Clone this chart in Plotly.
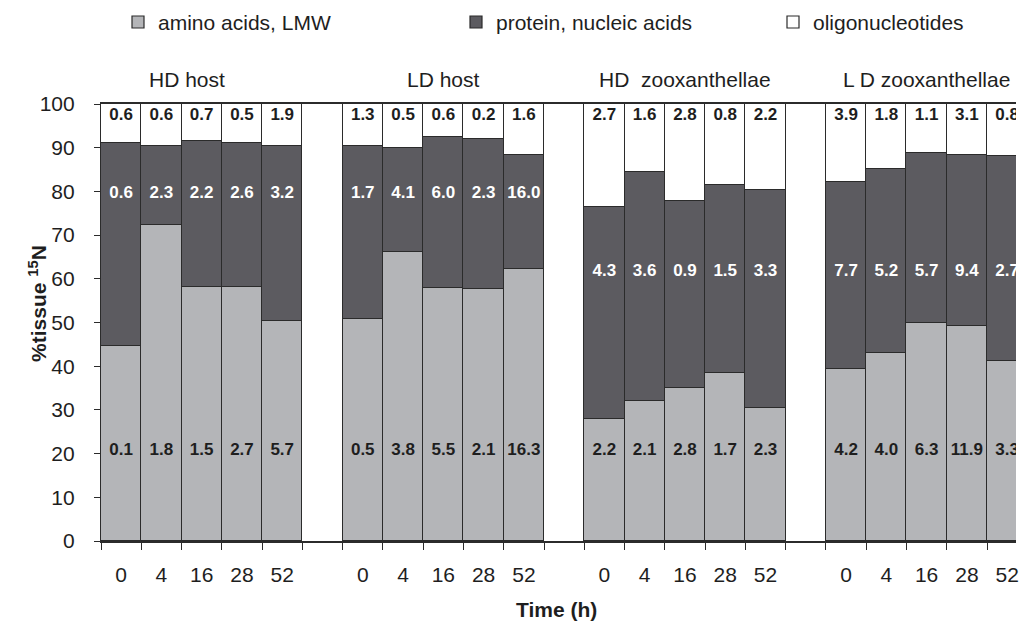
import plotly.graph_objects as go

# Sample groups and sampling times (h)
groups = ["HD host", "LD host", "HD  zooxanthellae", "L D zooxanthellae"]
times = ["0", "4", "16", "28", "52"]

# % of tissue 15N in each fraction, one row per group, one value per time
amino = [
    [44.6, 72.4, 58.1, 58.1, 50.4],
    [50.8, 66.2, 58.0, 57.7, 62.2],
    [28.0, 32.1, 34.9, 38.5, 30.4],
    [39.3, 43.1, 50.0, 49.2, 41.3],
]
protein = [
    [46.4, 18.0, 33.5, 32.9, 40.0],
    [39.6, 23.8, 34.5, 34.3, 26.1],
    [48.5, 52.3, 42.9, 43.0, 49.9],
    [42.9, 42.0, 38.9, 39.1, 46.8],
]
oligo = [
    [9.0, 9.6, 8.4, 9.0, 9.6],
    [9.6, 10.0, 7.5, 8.0, 11.7],
    [23.5, 15.6, 22.2, 18.5, 19.7],
    [17.8, 14.9, 11.1, 11.7, 11.9],
]

# Values printed inside each segment
amino_lbl = [
    ["0.1", "1.8", "1.5", "2.7", "5.7"],
    ["0.5", "3.8", "5.5", "2.1", "16.3"],
    ["2.2", "2.1", "2.8", "1.7", "2.3"],
    ["4.2", "4.0", "6.3", "11.9", "3.3"],
]
protein_lbl = [
    ["0.6", "2.3", "2.2", "2.6", "3.2"],
    ["1.7", "4.1", "6.0", "2.3", "16.0"],
    ["4.3", "3.6", "0.9", "1.5", "3.3"],
    ["7.7", "5.2", "5.7", "9.4", "2.7"],
]
oligo_lbl = [
    ["0.6", "0.6", "0.7", "0.5", "1.9"],
    ["1.3", "0.5", "0.6", "0.2", "1.6"],
    ["2.7", "1.6", "2.8", "0.8", "2.2"],
    ["3.9", "1.8", "1.1", "3.1", "0.8"],
]

LIGHT = "#b4b5b8"
DARK = "#5c5b60"
EDGE = "#2b2b2b"
TXT = "#1e1e1e"
FONT = "Liberation Sans, Arial, sans-serif"

n_g, n_t = len(groups), len(times)
slot = n_t + 1  # one empty slot between groups
xs = [g * slot + i for g in range(n_g) for i in range(n_t)]


def flat(rows):
    return [v for r in rows for v in r]


fig = go.Figure()
series = [
    (amino, "amino acids, LMW", LIGHT, "legend"),
    (protein, "protein, nucleic acids", DARK, "legend2"),
    (oligo, "oligonucleotides", "white", "legend3"),
]
for vals, name, color, leg in series:
    fig.add_bar(
        x=xs, y=flat(vals), name=name, width=1, legend=leg,
        marker=dict(color=color, line=dict(color=EDGE, width=1.2)),
        hoverinfo="skip",
    )

# segment labels at fixed heights
label_rows = [
    (amino_lbl, [20.6] * len(xs), TXT),
    (protein_lbl, [79.4 if g < 2 else 61.6 for g in range(n_g) for _ in range(n_t)], "white"),
    (oligo_lbl, [97.3] * len(xs), TXT),
]
for lbls, ys, col in label_rows:
    fig.add_scatter(
        x=xs, y=ys, mode="text", text=flat(lbls), showlegend=False,
        textfont=dict(family=FONT, size=17, color=col, weight="bold"),
        cliponaxis=True, hoverinfo="skip",
    )

boundaries = [g * slot + i - 0.5 for g in range(n_g) for i in range(n_t + 1)]


def legend_at(xpx):
    return dict(
        orientation="h", xref="container", yref="container",
        x=xpx / 1019, y=0.997, xanchor="left", yanchor="top",
        font=dict(size=21, color=TXT), bgcolor="rgba(0,0,0,0)",
    )


fig.update_layout(
    width=1019, height=621,
    margin=dict(l=101, r=0, t=104, b=80),
    paper_bgcolor="white", plot_bgcolor="white",
    barmode="stack", bargap=0,
    font=dict(family=FONT, size=21, color=TXT),
    legend=legend_at(118),
    legend2=legend_at(456),
    legend3=legend_at(773),
    xaxis=dict(
        range=[-0.5, 22.22], tickmode="array", tickvals=xs,
        ticktext=times * n_g, ticks="", showgrid=False, zeroline=False,
        showline=True, linecolor=EDGE, linewidth=1.5, mirror=True,
        ticklabelstandoff=14, ticklabeloverflow="allow",
        minor=dict(tickmode="array", tickvals=boundaries, ticks="outside",
                   ticklen=7, tickwidth=1.2, tickcolor=EDGE, showgrid=False),
    ),
    yaxis=dict(
        range=[0, 100], dtick=10, ticks="outside", ticklen=6, tickwidth=1.2,
        tickcolor=EDGE, showgrid=False, zeroline=False, showline=True,
        linecolor=EDGE, linewidth=1.2, ticklabelstandoff=15,
    ),
)

title_shift = [-15, 0, 0, 0]
for g, name in enumerate(groups):
    fig.add_annotation(
        x=g * slot + (n_t - 1) / 2, xref="x", y=1, yref="paper",
        yshift=25, xshift=title_shift[g], text=name, showarrow=False,
        yanchor="middle", font=dict(size=21),
    )

fig.add_annotation(
    text="%tissue <sup>15</sup>N", textangle=-90, xref="paper", yref="paper",
    x=-64 / 918, y=0.543, showarrow=False, xanchor="center", yanchor="middle",
    font=dict(size=21, weight="bold"),
)
fig.add_annotation(
    text="Time (h)", xref="paper", yref="paper", x=457 / 918, y=-68 / 437,
    showarrow=False, xanchor="center", yanchor="middle",
    font=dict(size=21, weight="bold"),
)

fig.write_html("out.html")
